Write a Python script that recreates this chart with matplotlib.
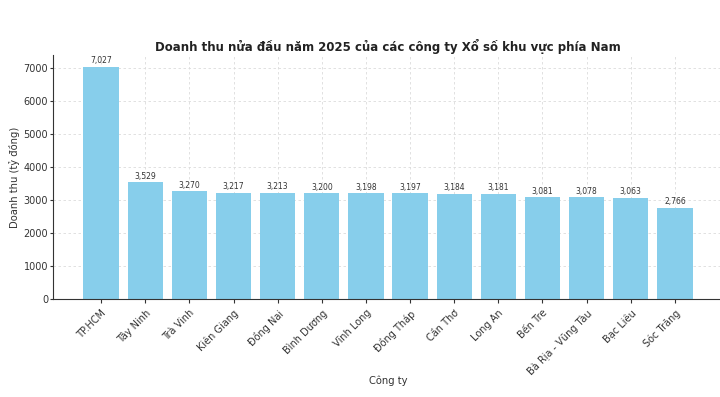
import matplotlib
matplotlib.use("Agg")
import matplotlib.pyplot as plt

# doanh thu nửa đầu năm 2025 (tỷ đồng)
cong_ty = ["TP.HCM", "Tây Ninh", "Trà Vinh", "Kiên Giang", "Đồng Nai",
           "Bình Dương", "Vĩnh Long", "Đồng Tháp", "Cần Thơ", "Long An",
           "Bến Tre", "Bà Rịa - Vũng Tàu", "Bạc Liêu", "Sóc Trăng"]
doanh_thu = [7027, 3529, 3270, 3217, 3213, 3200, 3198, 3197, 3184, 3181,
             3081, 3078, 3063, 2766]

fig = plt.figure(figsize=(7.2, 3.97), dpi=100)
ax = fig.add_axes([53 / 720, 98 / 397, 670 / 720, 244 / 397])

bars = ax.bar(cong_ty, doanh_thu, color="skyblue", width=0.8, zorder=2)
for b, v in zip(bars, doanh_thu):
    ax.text(b.get_x() + b.get_width() / 2, v + 40, f"{v:,}",
            ha="center", va="bottom", fontsize=5.5, color="#333333")

ax.grid(True, linestyle=(0, (3, 3)), color="#dcdcdc", linewidth=0.6, zorder=0)
ax.spines["top"].set_visible(False)
ax.spines["right"].set_visible(False)
ax.spines["left"].set_color("#333333")
ax.spines["bottom"].set_color("#333333")
ax.tick_params(labelsize=7, length=3, labelcolor="#333333", color="#333333")
ax.tick_params(axis="y", length=2, pad=1.5)
plt.setp(ax.get_xticklabels(), rotation=45, ha="right", rotation_mode="anchor")

ax.set_title("Doanh thu nửa đầu năm 2025 của các công ty Xổ số khu vực phía Nam",
             fontsize=8.5, fontweight="bold", pad=3, color="#222222")
ax.set_xlabel("Công ty", fontsize=7.2, color="#333333", va="center")
ax.set_ylabel("Doanh thu (tỷ đồng)", fontsize=7.2, color="#333333", va="center")
ax.xaxis.set_label_coords(0.5, -0.336)
ax.yaxis.set_label_coords(-0.058, 0.5)

fig.savefig("out.png", dpi=100)
